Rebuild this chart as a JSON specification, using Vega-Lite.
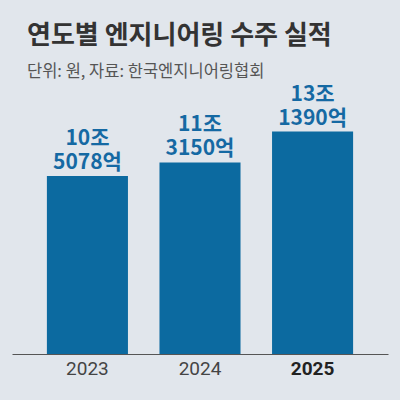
{
  "$schema": "https://vega.github.io/schema/vega-lite/v6.json",
  "description": "연도별 엔지니어링 수주 실적 (단위: 조원)",
  "width": 376,
  "height": 254,
  "autosize": {"type": "none"},
  "padding": {"left": 12, "right": 12, "top": 100, "bottom": 46},
  "background": "#e1e6ec",
  "title": {
    "text": "연도별 엔지니어링 수주 실적",
    "subtitle": "단위: 원, 자료: 한국엔지니어링협회",
    "anchor": "start",
    "frame": "group",
    "dx": 15,
    "font": "Noto Sans CJK KR",
    "fontSize": 26,
    "fontWeight": "bold",
    "color": "#333333",
    "subtitleFont": "Noto Sans CJK KR",
    "subtitleFontSize": 16.5,
    "subtitleColor": "#555555",
    "subtitlePadding": 15,
    "offset": 3
  },
  "data": {
    "values": [
      {"year": "2023", "amount": 10.5078, "jo": "10조", "eok": "5078억"},
      {"year": "2024", "amount": 11.315, "jo": "11조", "eok": "3150억"},
      {"year": "2025", "amount": 13.139, "jo": "13조", "eok": "1390억"}
    ]
  },
  "encoding": {
    "x": {
      "field": "year",
      "type": "ordinal",
      "title": null,
      "scale": {"paddingInner": 0.28, "paddingOuter": 0.31},
      "axis": {
        "domainColor": "#555555",
        "domainWidth": 1,
        "ticks": false,
        "labelAngle": 0,
        "labelFont": "Roboto",
        "labelFontSize": 19,
        "labelPadding": 5,
        "labelColor": {"expr": "datum.value == '2025' ? '#222222' : '#444444'"},
        "labelFontWeight": {"expr": "datum.value == '2025' ? 'bold' : 'normal'"}
      }
    },
    "y": {
      "field": "amount",
      "type": "quantitative",
      "scale": {"domain": [0, 15]},
      "axis": null
    }
  },
  "layer": [
    {"mark": {"type": "bar", "color": "#0c6aa0"}},
    {
      "mark": {
        "type": "text",
        "baseline": "bottom",
        "dy": -3,
        "font": "Noto Sans CJK KR",
        "fontSize": 21,
        "fontWeight": "bold",
        "color": "#1569a3"
      },
      "encoding": {"text": {"field": "eok"}}
    },
    {
      "mark": {
        "type": "text",
        "baseline": "bottom",
        "dy": -27,
        "font": "Noto Sans CJK KR",
        "fontSize": 21,
        "fontWeight": "bold",
        "color": "#1569a3"
      },
      "encoding": {"text": {"field": "jo"}}
    }
  ],
  "config": {"view": {"stroke": null}}
}
